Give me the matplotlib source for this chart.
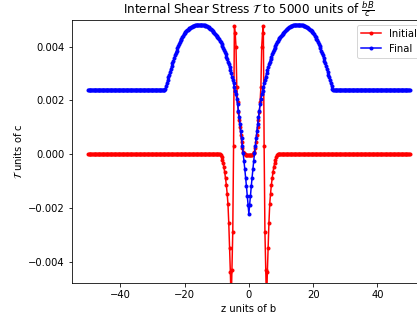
import numpy as np
import matplotlib
matplotlib.use("Agg")
import matplotlib.pyplot as plt

# values in units of 1e-3 (c)
initial_left_flat = [0.0] * 164   # z = -50 ... -9.25
initial_left = [-0.01, -0.04, -0.12, -0.22, -0.35, -0.50, -0.68, -0.90, -1.15, -1.47,
                -1.85, -2.55, -3.50, -4.40, -5.60, -4.30, -2.90, 0.30, 4.78, 4.50,
                4.00, 2.50, 1.95, 1.55, 1.25, 1.00, 0.72, 0.45, 0.22, 0.08,
                0.02, -0.01, -0.03, -0.04, -0.05, -0.05]
initial_center = [-0.05]
initial_right = [-0.05, -0.05, -0.04, -0.03, -0.01, 0.02, 0.08, 0.22, 0.45, 0.72,
                 1.00, 1.25, 1.55, 1.95, 2.50, 4.00, 4.50, 4.78, 0.30, -2.90,
                 -4.30, -5.60, -4.40, -3.50, -2.55, -1.85, -1.47, -1.15, -0.90, -0.68,
                 -0.50, -0.35, -0.22, -0.12, -0.04, -0.01]
initial_right_flat = [0.0] * 164  # z = 9.25 ... 50

final_left_flat = [2.40] * 95     # z = -50 ... -26.5
final_left = [2.40, 2.43, 2.52, 2.63, 2.74, 2.85, 2.96, 3.06, 3.17, 3.27,
              3.37, 3.47, 3.57, 3.67, 3.76, 3.85, 3.93, 4.01, 4.09, 4.16,
              4.23, 4.29, 4.35, 4.40, 4.45, 4.49, 4.53, 4.57, 4.60, 4.63,
              4.66, 4.68, 4.70, 4.72, 4.74, 4.76, 4.77, 4.78, 4.79, 4.80,
              4.81, 4.81, 4.82, 4.82, 4.82, 4.82,
              4.82, 4.81, 4.81, 4.80, 4.79, 4.78, 4.77, 4.75, 4.73, 4.71,
              4.69, 4.67, 4.64, 4.61, 4.58, 4.55, 4.51, 4.47, 4.43, 4.39,
              4.35, 4.31, 4.27, 4.22,
              4.16, 4.10, 4.03, 3.96, 3.88, 3.80, 3.72, 3.63, 3.54, 3.44,
              3.34, 3.23, 3.12, 3.00, 2.88, 2.76, 2.63, 2.50, 2.36, 2.22,
              2.05, 1.85, 1.62, 1.38, 1.12, 0.86, 0.58, 0.30, 0.02, -0.27,
              -0.57, -0.88, -1.20, -1.55, -1.90]
final_center = [-2.22]
final_right = [-1.90, -1.55, -1.20, -0.88, -0.57, -0.27, 0.02, 0.30, 0.58, 0.86,
               1.12, 1.38, 1.62, 1.85, 2.05,
               2.22, 2.36, 2.50, 2.63, 2.76, 2.88, 3.00, 3.12, 3.23, 3.34,
               3.44, 3.54, 3.63, 3.72, 3.80, 3.88, 3.96, 4.03, 4.10, 4.16,
               4.22, 4.27, 4.31, 4.35, 4.39, 4.43, 4.47, 4.51, 4.55, 4.58,
               4.61, 4.64, 4.67, 4.69, 4.71, 4.73, 4.75, 4.77, 4.78, 4.79,
               4.80, 4.81, 4.81, 4.82,
               4.82, 4.82, 4.82, 4.82, 4.81, 4.81, 4.80, 4.79, 4.78, 4.77,
               4.76, 4.74, 4.72, 4.70, 4.68, 4.66, 4.63, 4.60, 4.57, 4.53,
               4.49, 4.45, 4.40, 4.35, 4.29, 4.23, 4.16, 4.09, 4.01, 3.93,
               3.85, 3.76, 3.67, 3.57, 3.47, 3.37, 3.27, 3.17, 3.06, 2.96,
               2.85, 2.74, 2.63, 2.52, 2.43, 2.40]
final_right_flat = [2.40] * 95    # z = 26.5 ... 50

initial = np.array(initial_left_flat + initial_left + initial_center +
                   initial_right + initial_right_flat) * 1e-3
final = np.array(final_left_flat + final_left + final_center +
                 final_right + final_right_flat) * 1e-3
assert len(initial) == 401 and len(final) == 401, (len(initial), len(final))
z = np.linspace(-50, 50, 401)

dpi = 72
fig = plt.figure(figsize=(417 / dpi, 320 / dpi), dpi=dpi)
ax = fig.add_axes([72 / 417, 37 / 320, 353.7 / 417, 263.3 / 320])
ax.plot(z, initial, '.-', color='red', label='Initial')
ax.plot(z, final, '.-', color='blue', label='Final')
ax.set_xlim(-55, 55)
ax.set_ylim(-0.0048, 0.0050)
ax.set_title(r'Internal Shear Stress $\mathcal{T}$ to 5000 units of $\frac{bB}{c}$')
ax.set_xlabel('z units of b')
ax.set_ylabel(r'$\mathcal{T}$ units of c')
ax.legend(loc='upper right')
fig.savefig('out.png', dpi=dpi)
